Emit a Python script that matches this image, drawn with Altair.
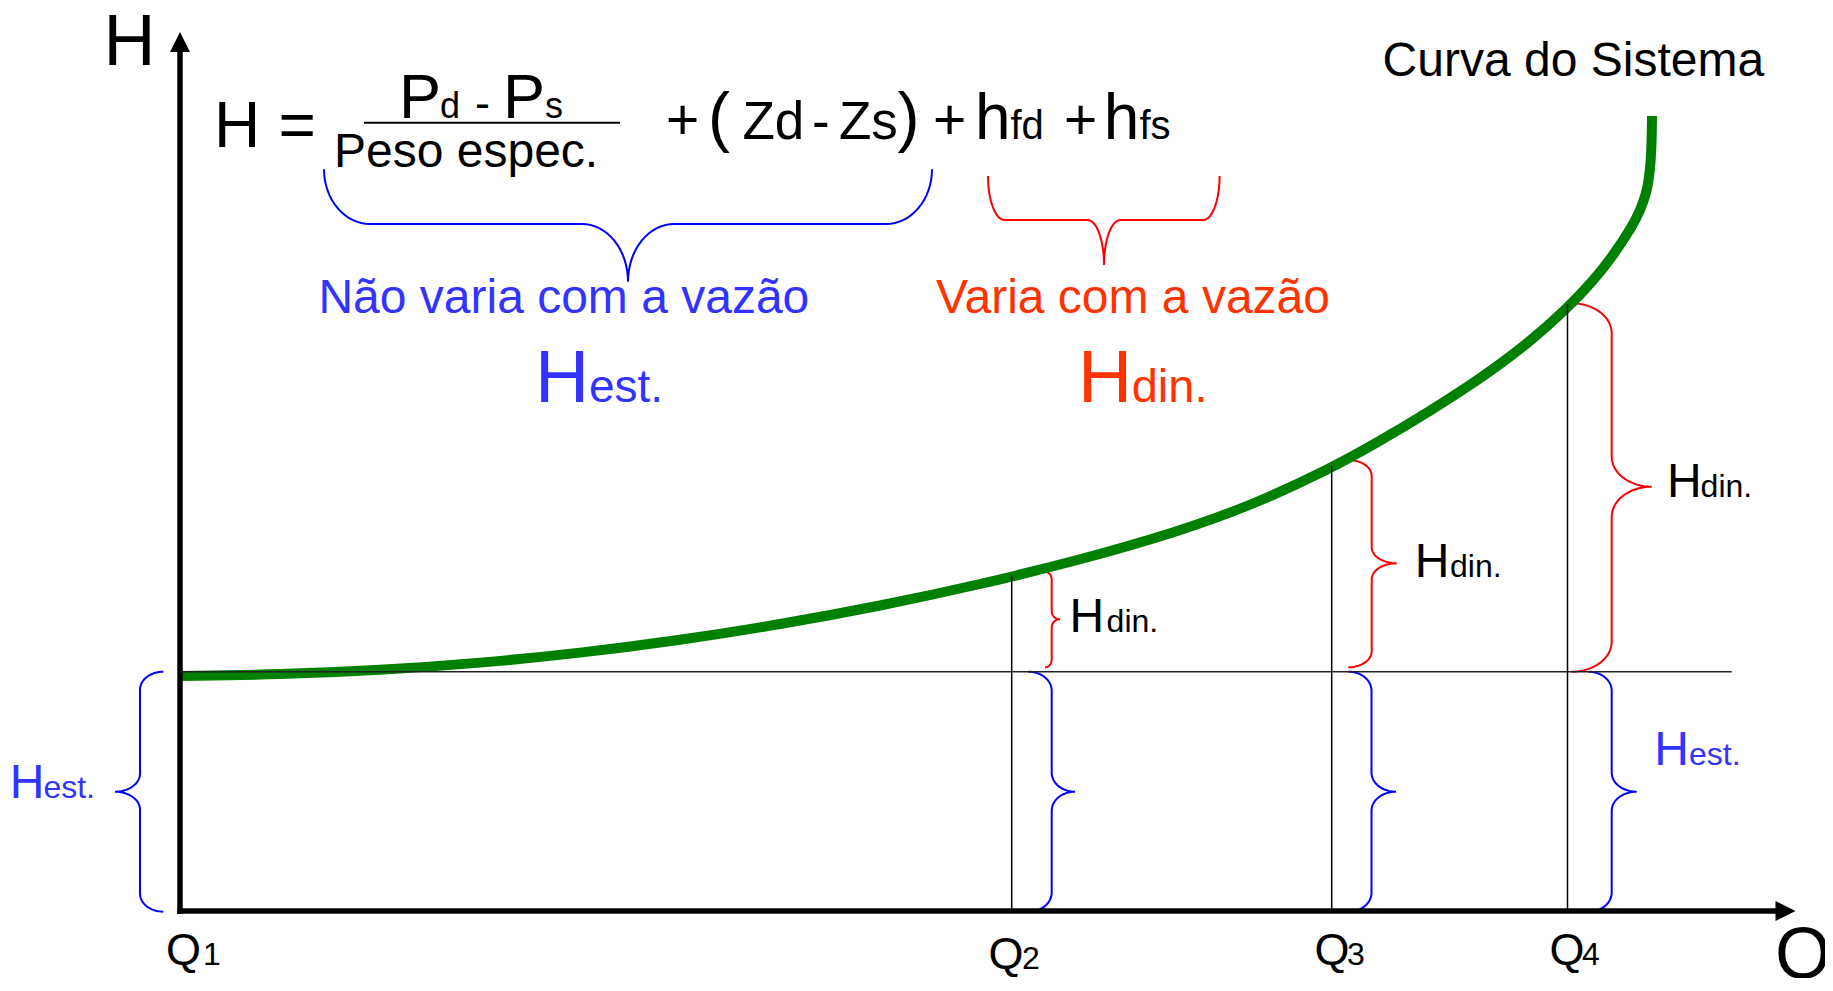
import math
import altair as alt
import pandas as pd

# ---------------- data (Q = flow axis units, H = head axis units) ----------------
# system curve
curve_q = [0, 100, 200, 300, 400, 500, 600, 700, 800, 900, 1000, 1070, 1150, 1200, 1250,
           1300, 1350, 1387.5, 1413, 1433, 1453, 1460, 1466.7, 1469, 1470.8, 1471.7, 1472]
curve_h = [235, 236.4, 240.7, 247.9, 257.9, 270.8, 286.5, 305, 326.5, 351, 380, 405, 442,
           470, 500, 532, 569, 603, 630, 655, 686, 700, 719, 733, 750, 771, 795]

# operating points Q2..Q4 and the static head level
q_points = [831.7, 1151.7, 1387.5]
q_tops = [335.3, 445.5, 607]
h_static = 239.3

# straight segments: q, h, q2, h2, colour, width
seg_q = [0, -2.75, 0, q_points[0], q_points[1], q_points[2], 184]
seg_h = [-3, 0, h_static, 0, 0, 0, 788.3]
seg_q2 = [0, 1598, 1551.7, q_points[0], q_points[1], q_points[2], 440]
seg_h2 = [862, 0, h_static, q_tops[0], q_tops[1], q_tops[2], 788.3]
seg_c = ["#000000", "#000000", "#222222", "#000000", "#000000", "#000000", "#000000"]
seg_w = [5.5, 5.5, 1.5, 1.5, 1.5, 1.5, 2]

# vertical braces: end, bar, tip (Q) ; top, bottom, tip (H) ; radius ; colour
vb_id = ["hest_left", "din2", "din3", "din4", "est2", "est3", "est4"]
vb_end = [-16.7, 865, 1168.3, 1391.7, 848.3, 1168.5, 1408.3]
vb_bar = [-40, 871.7, 1191.7, 1431.7, 871.7, 1191.5, 1431.7]
vb_tip = [-65, 880, 1216.7, 1471.7, 895, 1216, 1456.7]
vb_top = [239.3, 339.3, 451, 607.7, 239.3, 239.3, 239.3]
vb_bot = [-0.7, 243.7, 243.7, 239.3, -0.7, -0.7, -0.7]
vb_tiph = [119.3, 291.7, 347.7, 424.3, 119.3, 119.3, 119.3]
vb_r = [18, 8, 16, 30, 19, 19, 19]
vb_col = ["#0000FF", "#FF0000", "#FF0000", "#FF0000", "#0000FF", "#0000FF", "#0000FF"]

# horizontal braces under the equation: end, bar, tip (H) ; left, right, tip (Q) ; radius
hb_id = ["eq_est", "eq_din"]
hb_end = [741.7, 735]
hb_bar = [687, 691]
hb_tip = [629.3, 646]
hb_left = [144, 808]
hb_right = [752, 1039.6]
hb_tipq = [448, 924]
hb_r = [46, 16.5]
hb_col = ["#0000FF", "#FF0000"]

# texts
BLUE_T = "#3333FF"
RED_T = "#FF3300"
txt = ["H", "Q",
       "Q", "1", "Q", "2", "Q", "3", "Q", "4",
       "H", "=", "P", "d", "-", "P", "s", "Peso espec.",
       "+", "(", "Zd", "-", "Zs", ")", "+", "h", "fd", "+", "h", "fs",
       "Não varia com a vazão", "Varia com a vazão",
       "H", "est.", "H", "din.",
       "H", "din.", "H", "din.", "H", "din.",
       "H", "est.", "H", "est.",
       "Curva do Sistema"]
txt_q = [-76.5, 1595,
         -14, 23, 808.5, 842, 1134.5, 1167, 1369.5, 1402,
         34, 98.5, 219, 260, 295, 323, 365, 154,
         486, 528, 562.5, 632, 659, 717.5, 753, 795, 830.5, 884, 923.7, 959.5,
         138.4, 756,
         355, 409, 898, 951.7,
         889.6, 926.6, 1234.8, 1270, 1487, 1520.6,
         1474.3, 1509, -170.3, -136.6,
         1202.6]
txt_h = [846.5, -67,
         -54, -54, -58, -58, -54, -54, -54, -54,
         763.7, 763.7, 792.7, 792.7, 792.7, 792.7, 792.7, 744.3,
         771.7, 771.7, 771.7, 771.7, 771.7, 771.7, 771.7, 771.7, 771.7, 771.7, 771.7, 771.7,
         597.7, 597.7,
         509.3, 509.3, 509.3, 509.3,
         279.3, 279.3, 334, 334, 414, 414,
         146, 146, 113.5, 113.5,
         835]
txt_s = [72, 72,
         45, 32, 45, 32, 45, 32, 45, 32,
         64, 64, 63, 36, 45, 63, 36, 48,
         57, 66, 53, 53, 53, 66, 57, 64, 40, 57, 64, 40,
         48, 48,
         75, 46, 75, 47,
         48, 32, 48, 32, 48, 32,
         48, 32, 48, 32,
         48]
txt_c = ["#000000"] * 30 + [BLUE_T, RED_T, BLUE_T, BLUE_T, RED_T, RED_T] + ["#000000"] * 6 + \
        [BLUE_T] * 4 + ["#000000"]


# ---------------- helpers ----------------
def brace(a_end, a_bar, a_tip, b_top, b_bot, b_tip, r, n=16):
    """Curly brace outline: 'a' is the cross coordinate, 'b' the along coordinate."""
    pts = []
    for i in range(n + 1):
        t = i / n * math.pi / 2
        pts.append((a_end + (a_bar - a_end) * math.sin(t), b_top - r + r * math.cos(t)))
    for i in range(n + 1):
        t = i / n * math.pi / 2
        pts.append((a_tip - (a_tip - a_bar) * math.cos(t), b_tip + r - r * math.sin(t)))
    for i in range(n + 1):
        t = i / n * math.pi / 2
        pts.append((a_tip - (a_tip - a_bar) * math.sin(t), b_tip - r + r * math.cos(t)))
    for i in range(n + 1):
        t = i / n * math.pi / 2
        pts.append((a_end + (a_bar - a_end) * math.cos(t), b_bot + r - r * math.sin(t)))
    return pts


rows = []
for k in range(len(vb_id)):
    for j, (a, b) in enumerate(brace(vb_end[k], vb_bar[k], vb_tip[k], vb_top[k], vb_bot[k],
                                     vb_tiph[k], vb_r[k])):
        rows.append({"id": vb_id[k], "o": j, "q": a, "h": b, "c": vb_col[k]})
for k in range(len(hb_id)):
    for j, (a, b) in enumerate(brace(hb_end[k], hb_bar[k], hb_tip[k], hb_right[k], hb_left[k],
                                     hb_tipq[k], hb_r[k])):
        rows.append({"id": hb_id[k], "o": j, "q": b, "h": a, "c": hb_col[k]})
braces_df = pd.DataFrame(rows)

curve_df = pd.DataFrame({"q": curve_q, "h": curve_h})
seg_df = pd.DataFrame({"q": seg_q, "h": seg_h, "q2": seg_q2, "h2": seg_h2, "c": seg_c, "w": seg_w})
txt_df = pd.DataFrame({"t": txt, "q": txt_q, "h": txt_h, "s": txt_s, "c": txt_c})
arrow_up_df = pd.DataFrame({"q": [0], "h": [869]})
arrow_right_df = pd.DataFrame({"q": [1605.5], "h": [0]})

# ---------------- chart ----------------
xs = alt.Scale(domain=[-172, 1645], nice=False, zero=False)
ys = alt.Scale(domain=[-67, 903], nice=False, zero=False)
X = alt.X("q:Q", scale=xs, axis=None)
Y = alt.Y("h:Q", scale=ys, axis=None)

segments = alt.Chart(seg_df).mark_rule(strokeCap="butt").encode(
    x=X, y=Y, x2="q2:Q", y2="h2:Q",
    color=alt.Color("c:N", scale=None),
    strokeWidth=alt.StrokeWidth("w:Q", scale=None),
)

braces = alt.Chart(braces_df).mark_line(strokeWidth=2).encode(
    x=X, y=Y, detail="id:N", order="o:Q",
    color=alt.Color("c:N", scale=None),
)

curve = alt.Chart(curve_df).mark_line(
    color="#008000", strokeWidth=10, interpolate="basis", strokeCap="butt"
).encode(x=X, y=Y)

arrow_up = alt.Chart(arrow_up_df).mark_point(
    shape="M0,-1L1,1L-1,1Z", size=400, filled=True, color="#000000", opacity=1, strokeWidth=0
).encode(x=X, y=Y)

arrow_right = alt.Chart(arrow_right_df).mark_point(
    shape="M1,0L-1,-1L-1,1Z", size=400, filled=True, color="#000000", opacity=1, strokeWidth=0
).encode(x=X, y=Y)

texts = alt.Chart(txt_df).mark_text(
    align="left", baseline="alphabetic", font="Liberation Sans"
).encode(
    x=X, y=Y, text="t:N",
    size=alt.Size("s:Q", scale=None),
    color=alt.Color("c:N", scale=None),
)

chart = alt.layer(
    braces, curve, segments, arrow_up, arrow_right, texts
).properties(
    width=1817, height=970, padding=0,
    autosize=alt.AutoSizeParams(type="none"),
    background="#ffffff",
).configure_view(stroke=None)

chart.save("out.html", embed_options={"renderer": "svg", "actions": False})
